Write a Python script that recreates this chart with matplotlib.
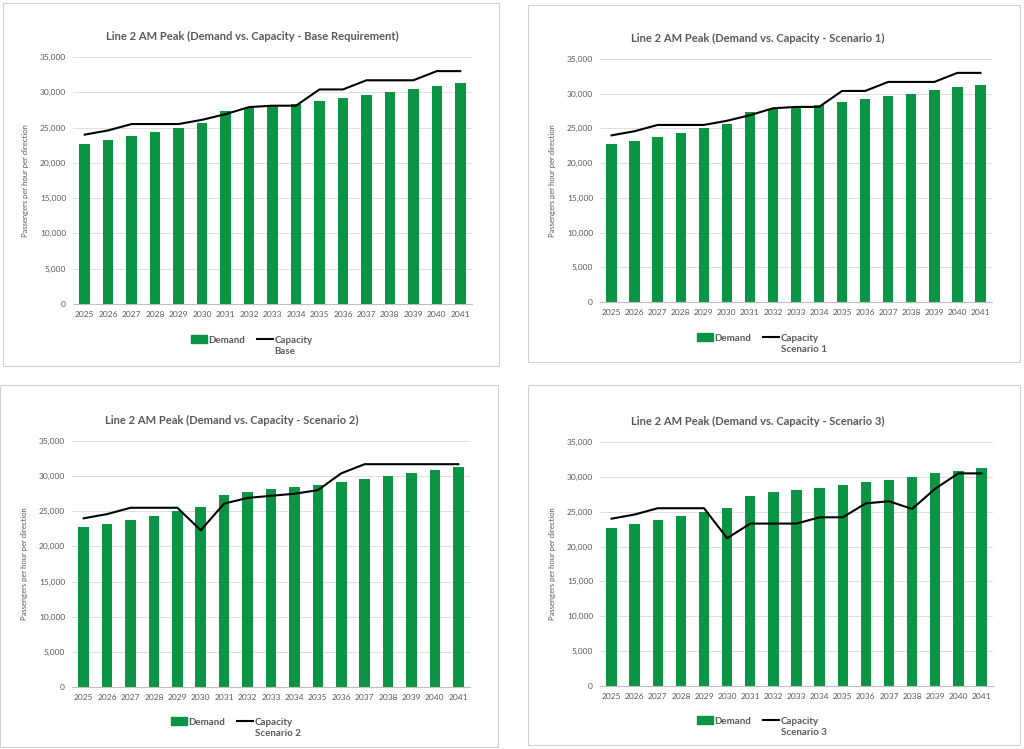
import numpy as np
import matplotlib
matplotlib.use("Agg")
import matplotlib.pyplot as plt
from matplotlib.patches import Rectangle
from matplotlib.lines import Line2D
from matplotlib.ticker import FuncFormatter

plt.rcParams['font.family'] = ['Lato', 'DejaVu Sans']

years = [str(y) for y in range(2025, 2042)]

demand = [22700, 23200, 23800, 24400, 25000, 25600, 27300, 27800, 28100,
          28400, 28800, 29200, 29600, 30000, 30500, 30900, 31300]

cap_base = [24000, 24600, 25500, 25500, 25500, 26100, 26900, 27900, 28100,
            28100, 30400, 30400, 31700, 31700, 31700, 33000, 33000]
cap_s1 = [24000, 24600, 25500, 25500, 25500, 26100, 26900, 27900, 28100,
          28100, 30400, 30400, 31700, 31700, 31700, 33000, 33000]
cap_s2 = [24000, 24600, 25500, 25500, 25500, 22300, 26100, 26900, 27200,
          27500, 28000, 30400, 31700, 31700, 31700, 31700, 31700]
cap_s3 = [24000, 24600, 25500, 25500, 25500, 21200, 23300, 23300, 23300,
          24200, 24200, 26200, 26500, 25400, 28300, 30500, 30500]

titles = ["Line 2 AM Peak (Demand vs. Capacity - Base Requirement)",
          "Line 2 AM Peak (Demand vs. Capacity - Scenario 1)",
          "Line 2 AM Peak (Demand vs. Capacity - Scenario 2)",
          "Line 2 AM Peak (Demand vs. Capacity - Scenario 3)"]
sub_labels = ["Base", "Scenario 1", "Scenario 2", "Scenario 3"]
capacities = [cap_base, cap_s1, cap_s2, cap_s3]

W, H = 1024, 749
GREEN = "#0a9443"
GREY = "#595959"

fig = plt.figure(figsize=(W / 100, H / 100), dpi=100)

# panel layout in pixels: border box, plot area box, title y, legend y
panels = [
    dict(box=(3, 3, 499, 366), plot=(73, 57, 472, 304), ty=36, ly=340, cx=252),
    dict(box=(528, 5, 1020, 362), plot=(600, 59, 992, 302), ty=38, ly=338, cx=758),
    dict(box=(0, 385, 498, 747), plot=(72, 441, 470, 687), ty=420, ly=722, cx=232),
    dict(box=(528, 385, 1020, 745), plot=(600, 442, 993, 686), ty=421, ly=721, cx=758),
]


def fx(px):
    return px / W


def fy(py):
    return 1 - py / H


x = np.arange(len(years))
legends = []
for i, p in enumerate(panels):
    bx0, by0, bx1, by1 = p['box']
    fig.patches.append(Rectangle((fx(bx0), fy(by1)), fx(bx1 - bx0), (by1 - by0) / H,
                                 transform=fig.transFigure, fill=False,
                                 edgecolor="#d0d0d0", lw=0.8))
    x0, y0, x1, y1 = p['plot']
    ax = fig.add_axes([fx(x0), fy(y1), fx(x1 - x0), (y1 - y0) / H])
    ax.bar(x, demand, width=0.45, color=GREEN, zorder=2)
    ax.plot(x, capacities[i], color="black", lw=1.5, zorder=3)
    ax.set_xlim(-0.5, len(years) - 0.5)
    ax.set_ylim(0, 35000)
    ax.set_yticks(range(0, 35001, 5000))
    ax.yaxis.set_major_formatter(FuncFormatter(lambda v, _: f"{int(v):,}"))
    ax.set_xticks(x)
    ax.set_xticklabels(years)
    ax.tick_params(axis='both', length=0, labelsize=6, colors=GREY, pad=5)
    ax.grid(axis='y', color="#d9d9d9", lw=0.6, zorder=0)
    for s in ['top', 'right', 'left']:
        ax.spines[s].set_visible(False)
    ax.spines['bottom'].set_color("#bfbfbf")
    ax.spines['bottom'].set_linewidth(0.8)
    ax.set_ylabel("Passengers per hour per direction", fontsize=5.5, color=GREY, labelpad=8)
    fig.text(fx(p['cx']), fy(p['ty']), titles[i], ha='center', va='center',
             fontsize=8, fontweight='bold', color=GREY)
    handles = [Rectangle((0, 0), 1, 1, color=GREEN),
               Line2D([0], [0], color="black", lw=1.5)]
    leg = fig.legend(handles, ["Demand", "Capacity"], loc='center',
                     bbox_to_anchor=(fx(p['cx']), fy(p['ly'])), ncol=2, frameon=False,
                     fontsize=7, handlelength=1.6, handleheight=0.8,
                     handletextpad=0.2, columnspacing=1.2, labelcolor=GREY,
                     prop={'weight': 'bold', 'size': 7})
    legends.append(leg)

fig.canvas.draw()
renderer = fig.canvas.get_renderer()
for i, leg in enumerate(legends):
    bb = leg.get_texts()[1].get_window_extent(renderer)
    fig.text(bb.x0 / W, (bb.y0 - 2) / H, sub_labels[i], ha='left', va='top',
             fontsize=7, fontweight='bold', color=GREY)

fig.savefig("out.png", dpi=100, facecolor="white")
